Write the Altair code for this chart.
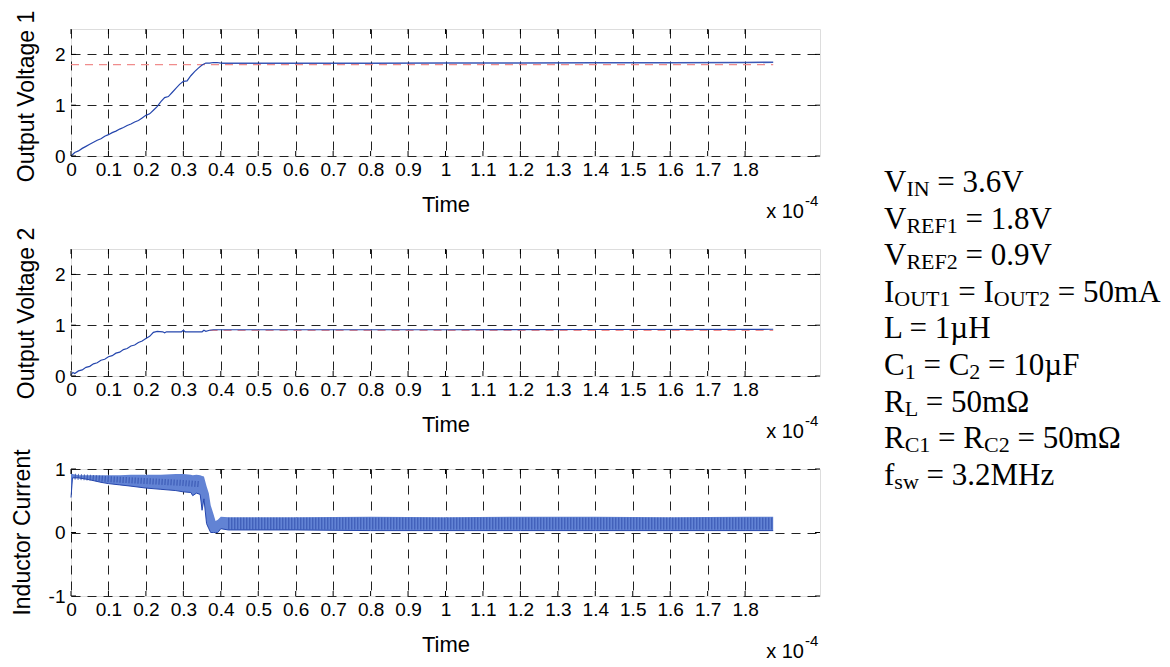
import altair as alt
import pandas as pd

# ---------------- data (time axis in units of 1e-4 s) ----------------
x_ticks = [0, 0.1, 0.2, 0.3, 0.4, 0.5, 0.6, 0.7, 0.8, 0.9, 1, 1.1, 1.2, 1.3, 1.4, 1.5, 1.6, 1.7, 1.8]
v_ticks = [0, 1, 2]
i_ticks = [-1, 0, 1]

# Output voltage 1: start-up ramp
v1_time = [0.00, 0.01, 0.02, 0.03, 0.04, 0.05, 0.06, 0.07, 0.08, 0.09, 0.10,
           0.11, 0.12, 0.13, 0.14, 0.15, 0.16, 0.17, 0.18, 0.19, 0.20,
           0.21, 0.22, 0.23, 0.24, 0.25, 0.26, 0.27, 0.28, 0.29, 0.30,
           0.31, 0.32, 0.33, 0.34, 0.35, 0.36, 0.37, 0.38, 0.39, 0.40]
v1_value = [0.00, 0.07, 0.10, 0.15, 0.19, 0.23, 0.27, 0.31, 0.34, 0.39, 0.42,
            0.46, 0.49, 0.53, 0.56, 0.60, 0.63, 0.67, 0.70, 0.75, 0.80,
            0.83, 0.90, 0.97, 1.07, 1.15, 1.17, 1.25, 1.33, 1.41, 1.47,
            1.48, 1.58, 1.66, 1.73, 1.79, 1.83, 1.83, 1.84, 1.84, 1.83]
# Output voltage 1: steady-state ripple envelope
v1_rip_time = [0.40, 0.60, 0.80, 1.00, 1.20, 1.40, 1.60, 1.80, 1.875]
v1_rip_low = [1.81, 1.81, 1.81, 1.815, 1.815, 1.82, 1.82, 1.825, 1.83]
v1_rip_high = [1.84, 1.84, 1.84, 1.845, 1.845, 1.85, 1.85, 1.855, 1.86]

# Output voltage 2
v2_time = [0.00, 0.005, 0.01, 0.02, 0.03, 0.04, 0.05, 0.06, 0.07, 0.08, 0.09, 0.10,
           0.11, 0.12, 0.13, 0.14, 0.15, 0.16, 0.17, 0.18, 0.19, 0.20, 0.21, 0.22, 0.23,
           0.245, 0.25, 0.255, 0.27, 0.29, 0.295, 0.30, 0.305, 0.32, 0.35, 0.355, 0.36,
           0.37, 0.38, 0.60, 1.00, 1.40, 1.875]
v2_value = [0.02, 0.07, 0.05, 0.10, 0.12, 0.17, 0.19, 0.24, 0.26, 0.31, 0.33, 0.38,
            0.40, 0.45, 0.47, 0.52, 0.54, 0.59, 0.61, 0.66, 0.69, 0.74, 0.78, 0.86, 0.88,
            0.87, 0.85, 0.87, 0.87, 0.87, 0.87, 0.90, 0.87, 0.87, 0.87, 0.90, 0.88,
            0.90, 0.91, 0.91, 0.91, 0.915, 0.92]

# Inductor current: switching envelope (low / high)
il_time = [0.000, 0.004, 0.02, 0.05, 0.08, 0.10, 0.13, 0.16, 0.20, 0.24, 0.28, 0.30,
           0.32, 0.325, 0.335, 0.345, 0.35, 0.355, 0.362, 0.368, 0.373, 0.38, 0.386,
           0.392, 0.40, 0.42, 0.60, 0.80, 1.00, 1.20, 1.40, 1.60, 1.80, 1.875]
il_low = [0.55, 0.86, 0.86, 0.83, 0.79, 0.77, 0.75, 0.73, 0.70, 0.68, 0.66, 0.64,
          0.63, 0.58, 0.62, 0.60, 0.35, 0.53, 0.14, 0.06, 0.00, 0.00, 0.00,
          0.00, 0.06, 0.04, 0.04, 0.03, 0.03, 0.03, 0.03, 0.03, 0.03, 0.03]
il_high = [0.93, 0.92, 0.90, 0.90, 0.90, 0.90, 0.90, 0.91, 0.91, 0.91, 0.92, 0.92,
           0.91, 0.90, 0.91, 0.90, 0.89, 0.88, 0.73, 0.62, 0.43, 0.30, 0.18,
           0.20, 0.25, 0.24, 0.24, 0.25, 0.24, 0.25, 0.25, 0.24, 0.25, 0.25]
# switching-stripe centre lines (texture of the dense waveform)
il_early_time = [0.01, 0.10, 0.20, 0.30, 0.345]
il_early_mid = [0.88, 0.84, 0.81, 0.78, 0.76]
il_steady_time = [0.42, 1.875]
il_steady_mid = [0.14, 0.14]

# reference voltages
ref1_time = [0, 1.875]
vref1 = [1.8, 1.8]
ref2_time = [0.37, 1.875]
vref2 = [0.9, 0.9]

# parameter text block: (text, is_subscript)
param_lines = [
    [("V", 0), ("IN", 1), (" = 3.6V", 0)],
    [("V", 0), ("REF1", 1), (" = 1.8V", 0)],
    [("V", 0), ("REF2", 1), (" = 0.9V", 0)],
    [("I", 0), ("OUT1", 1), (" = I", 0), ("OUT2", 1), (" = 50mA", 0)],
    [("L = 1\u00b5H", 0)],
    [("C", 0), ("1", 1), (" = C", 0), ("2", 1), (" = 10\u00b5F", 0)],
    [("R", 0), ("L", 1), (" = 50m\u03a9", 0)],
    [("R", 0), ("C1", 1), (" = R", 0), ("C2", 1), (" = 50m\u03a9", 0)],
    [("f", 0), ("sw", 1), (" = 3.2MHz", 0)],
]

# ---------------- layout / style ----------------
W, H = 749, 127
BLUE = "#2546ad"
BAND = "#6283d4"
STRIPE = "#2a49a8"
RED = "#f08c8c"
GRID = "#222222"
SANS = "Liberation Sans"
SERIF = "Liberation Serif"

TIMES_W = {' ': 250, '=': 564, '.': 250, 'V': 722, 'I': 333, 'N': 722, 'R': 667, 'E': 611,
           'F': 556, 'O': 722, 'U': 722, 'T': 611, 'L': 611, 'C': 667, 'H': 722, 'M': 889,
           'Z': 611, 'A': 722, 'f': 333, 's': 389, 'w': 722, 'm': 778, '\u00b5': 500,
           '\u03a9': 768}
MAIN_FS, SUB_FS, SUB_DY = 31, 22, 4
TEXT_X0, TEXT_Y0, TEXT_DY = 813, -57, 36.6   # relative to middle panel origin


def tw(s, fs):
    return sum(TIMES_W.get(c, 500) for c in s) / 1000.0 * fs


rows = []
for i, line in enumerate(param_lines):
    x = TEXT_X0
    base = TEXT_Y0 + i * TEXT_DY
    for seg, sub in line:
        fs = SUB_FS if sub else MAIN_FS
        st = seg.lstrip(" ")
        x += (len(seg) - len(st)) * 0.25 * fs
        rows.append({"px": x, "py": base + (SUB_DY if sub else 0), "txt": st, "fs": fs})
        x += tw(st, fs)
text_df = pd.DataFrame(rows)


def xaxis():
    return alt.Axis(values=x_ticks, format="~g", title="Time", grid=True, gridDash=[9, 7],
                    gridColor=GRID, gridWidth=1, domain=False, ticks=False, tickSize=0,
                    labelPadding=4, labelFlush=False, labelOverlap=False, labelFontSize=19,
                    labelFont=SANS, labelColor="black", titleFont=SANS, titleFontSize=22,
                    titleFontWeight="normal", titleColor="black", titleX=W / 2, titleY=55,
                    titleAlign="center", titleBaseline="alphabetic")


def yaxis(title, vals, tx, ty):
    return alt.Axis(values=vals, title=title, grid=True, gridDash=[9, 7], gridColor=GRID,
                    gridWidth=1, domain=False, ticks=False, tickSize=0, labelPadding=6,
                    labelFlush=False, labelFontSize=19, labelFont=SANS, labelColor="black",
                    labelExpr="'' + datum.value",
                    titleFont=SANS, titleFontSize=23, titleFontWeight="normal",
                    titleColor="black", titleAngle=270, titleX=tx, titleY=ty,
                    titleAlign="center", titleBaseline="alphabetic")


def make_panel(ytitle, yvals, ydom, tx, ty, series_layers, extra=None):
    def X(f="t"):
        return alt.X(f"{f}:Q", scale=alt.Scale(domain=[0, 2.0], nice=False, zero=False), axis=xaxis())

    def Y(f="v"):
        return alt.Y(f"{f}:Q", scale=alt.Scale(domain=ydom, nice=False, zero=False),
                     axis=yaxis(ytitle, yvals, tx, ty))

    layers = []
    for kind, df, opts in series_layers:
        if kind == "line":
            layers.append(alt.Chart(df).mark_line(**opts).encode(x=X(), y=Y()))
        elif kind == "band":
            layers.append(alt.Chart(df).mark_area(**opts).encode(x=X(), y=Y("lo"), y2="hi:Q"))
    xt = pd.DataFrame({"t": x_ticks})
    yt = pd.DataFrame({"v": yvals})
    layers.append(alt.Chart(xt).mark_rule(color="black", strokeWidth=1).encode(
        x=X(), y=alt.value(0), y2=alt.value(5)))
    layers.append(alt.Chart(xt).mark_rule(color="black", strokeWidth=1).encode(
        x=X(), y=alt.value(H), y2=alt.value(H - 5)))
    layers.append(alt.Chart(yt).mark_rule(color="black", strokeWidth=1).encode(
        y=Y(), x=alt.value(0), x2=alt.value(5)))
    layers.append(alt.Chart(yt).mark_rule(color="black", strokeWidth=1).encode(
        y=Y(), x=alt.value(W), x2=alt.value(W - 5)))
    one = pd.DataFrame({"a": [0]})
    layers.append(alt.Chart(one).mark_text(align="right", baseline="alphabetic", font=SANS,
                                           fontSize=20, color="black").encode(
        x=alt.value(733), y=alt.value(H + 62), text=alt.value("x 10")))
    layers.append(alt.Chart(one).mark_text(align="left", baseline="alphabetic", font=SANS,
                                           fontSize=15, color="black").encode(
        x=alt.value(734), y=alt.value(H + 50), text=alt.value("-4")))
    if extra is not None:
        layers.append(extra)
    return alt.layer(*layers).properties(width=W, height=H)


ref1_df = pd.DataFrame({"t": ref1_time, "v": vref1})
ref2_df = pd.DataFrame({"t": ref2_time, "v": vref2})
v1_df = pd.DataFrame({"t": v1_time, "v": v1_value})
v1r_df = pd.DataFrame({"t": v1_rip_time, "lo": v1_rip_low, "hi": v1_rip_high})
v2_df = pd.DataFrame({"t": v2_time, "v": v2_value})
il_df = pd.DataFrame({"t": il_time, "lo": il_low, "hi": il_high})
il_e_df = pd.DataFrame({"t": il_early_time, "v": il_early_mid})
il_s_df = pd.DataFrame({"t": il_steady_time, "v": il_steady_mid})

dash = {"strokeDash": [8, 6], "color": RED, "strokeWidth": 1.2}

top = make_panel("Output Voltage 1", v_ticks, [0, 2.5], -38, 67, [
    ("line", ref1_df, dash),
    ("band", v1r_df, {"color": BLUE, "opacity": 0.9}),
    ("line", v1_df, {"color": BLUE, "strokeWidth": 1.2}),
])

text_layer = alt.Chart(text_df).mark_text(align="left", baseline="alphabetic", font=SERIF,
                                          color="black").encode(
    x=alt.X("px:Q", scale=None, axis=None),
    y=alt.Y("py:Q", scale=None, axis=None),
    text="txt:N",
    size=alt.Size("fs:Q", scale=None, legend=None),
)

mid = make_panel("Output Voltage 2", v_ticks, [0, 2.5], -38, 64, [
    ("line", ref2_df, dash),
    ("line", v2_df, {"color": BLUE, "strokeWidth": 1.2}),
], extra=text_layer)

bot = make_panel("Inductor Current", i_ticks, [-1, 1], -42, 63, [
    ("band", il_df, {"color": BAND, "opacity": 1, "line": {"color": BLUE, "strokeWidth": 1}}),
    ("line", il_e_df, {"color": STRIPE, "strokeWidth": 6, "strokeDash": [1, 2],
                       "strokeCap": "butt", "opacity": 0.8}),
    ("line", il_s_df, {"color": STRIPE, "strokeWidth": 12, "strokeDash": [1, 2],
                       "strokeCap": "butt", "opacity": 0.8}),
])

chart = alt.vconcat(top, mid, bot, spacing=93, bounds="flush").properties(
    padding={"left": 2, "top": 1, "right": 0, "bottom": 0}
).configure_view(stroke="black", strokeWidth=1).configure(font=SANS, background="white")

chart.save("out.html", embed_options={"renderer": "svg", "actions": False})
